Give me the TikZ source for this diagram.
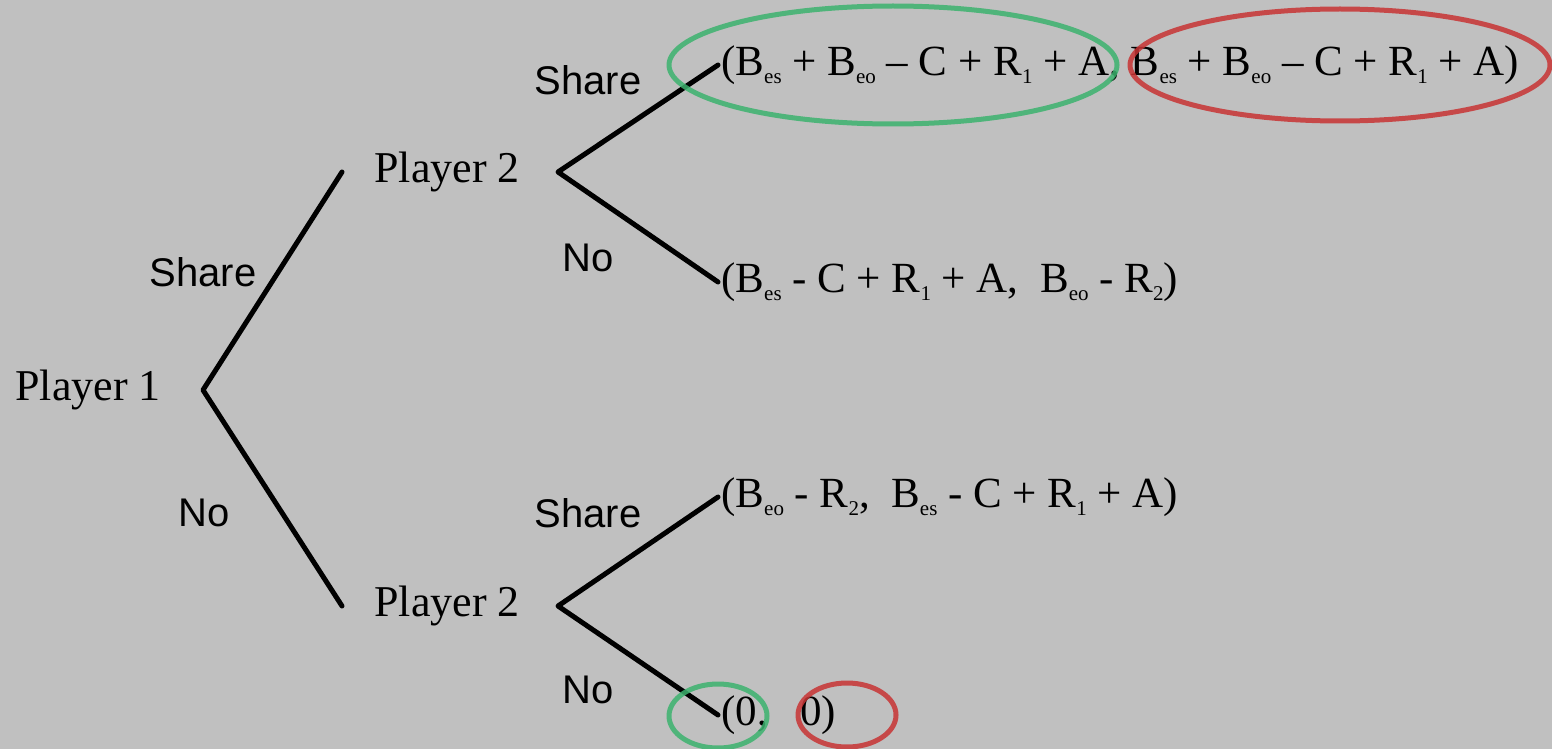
\documentclass[tikz,border=0pt]{standalone}
\usepackage{fontspec}
\setmainfont{Liberation Serif}
\newfontfamily\labelfont{Liberation Sans}
\usetikzlibrary{positioning}
\definecolor{bgray}{RGB}{192,192,192}
\definecolor{ringgreen}{RGB}{60,178,110}
\definecolor{ringred}{RGB}{200,52,52}
% low subscripts of the payoffs
\newcommand{\lsub}[1]{\raisebox{-0.4ex}{\fontsize{21}{21}\selectfont #1}}
\newcommand{\Bes}{B\lsub{es}}
\newcommand{\Beo}{B\lsub{eo}}
\begin{document}
\begin{tikzpicture}[x=1pt,y=-1pt, line join=round, line cap=round,
    player/.style={font=\fontsize{44}{50}\selectfont, inner sep=0pt},
    payoff/.style={font=\fontsize{43}{48}\selectfont, inner sep=0pt, anchor=west},
    lbl/.style={font=\labelfont\fontsize{40}{44}\selectfont, inner sep=0pt},
    branch/.style={line width=5pt},
    ring/.style={line width=5pt, opacity=.85}]
    \fill[bgray] (0,0) rectangle (1552,749);
    \useasboundingbox (0,0) rectangle (1552,749);
    % decision points
    \coordinate (p1) at (203,390);
    \coordinate (p2a) at (558,172);
    \coordinate (p2b) at (558,606);
    \node[player, left=42pt of p1] (n1) {Player 1};
    \node[player, left=38pt of p2a] (n2a) {Player 2};
    \node[player, left=38pt of p2b] (n2b) {Player 2};
    % branch ends
    \coordinate (sa) at (342,172);
    \coordinate (sb) at (342,606);
    \coordinate (ss) at (718,65);
    \coordinate (sn) at (718,282);
    \coordinate (ns) at (718,497);
    \coordinate (nn) at (718,715);
    \draw[branch] (sa) -- (p1) -- (sb);
    \draw[branch] (ss) -- (p2a) -- (sn);
    \draw[branch] (ns) -- (p2b) -- (nn);
    % moves
    \node[lbl] (m1) at (203,272) {Share};
    \node[lbl] (m2) at (204,513) {No};
    \node[lbl] (m3) at (588,80) {Share};
    \node[lbl] (m4) at (588,258) {No};
    \node[lbl] (m5) at (588,513) {Share};
    \node[lbl] (m6) at (588,690) {No};
    % payoffs
    \node[payoff, right=3pt of ss] (uss) {(\Bes\ + \Beo\ -- C + R\lsub{1} + A,\ \Bes\ + \Beo\ -- C + R\lsub{1} + A)};
    \node[payoff, right=3pt of sn] (usn) {(\Bes\ - C + R\lsub{1} + A,\ \ \Beo\ - R\lsub{2})};
    \node[payoff, right=3pt of ns] (uns) {(\Beo\ - R\lsub{2},\ \ \Bes\ - C + R\lsub{1} + A)};
    \node[payoff, right=3pt of nn] (unn) {(0,\ \ \ 0)};
    % highlighted outcomes
    \draw[ring, ringgreen] (893,65) ellipse (224 and 59);
    \draw[ring, ringred] (1340,65) ellipse (210 and 56);
    \draw[ring, ringgreen] (718,716) ellipse (49 and 32);
    \draw[ring, ringred] (847,715) ellipse (49 and 32);
\end{tikzpicture}
\end{document}
